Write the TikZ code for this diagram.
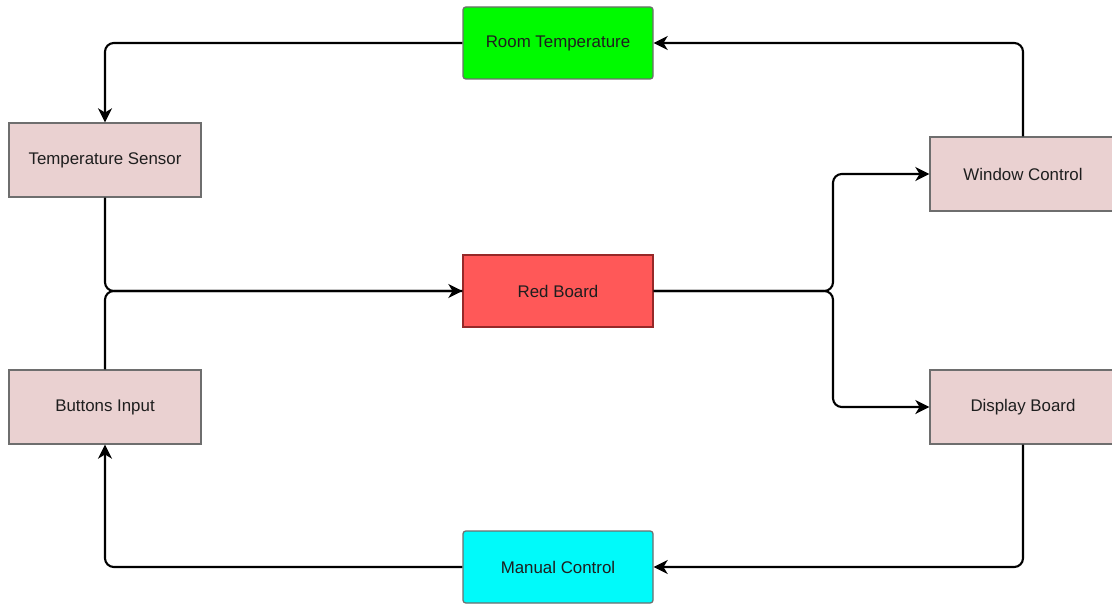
\documentclass[tikz,border=0pt]{standalone}
\usepackage{fontspec}
\setmainfont{Liberation Sans}
\usetikzlibrary{shapes,arrows.meta,calc}
\definecolor{pinkbox}{RGB}{234,209,209}
\definecolor{greenbox}{RGB}{0,250,0}
\definecolor{redbox}{RGB}{255,88,88}
\definecolor{cyanbox}{RGB}{0,250,250}
\tikzstyle{box} = [rectangle, minimum width=4.8cm, minimum height=1.85cm, text centered, draw={rgb,255:red,110;green,110;blue,110}, line width=0.9pt, fill=pinkbox, font=\fontsize{12}{14}\selectfont, text={rgb,255:red,30;green,30;blue,30}]
\tikzstyle{mid} = [box, minimum width=4.75cm, minimum height=1.8cm]
\tikzstyle{arrow} = [draw, line width=1.5pt, rounded corners=0.22cm, -{Stealth[length=10pt,width=10pt,inset=3pt]}]
\tikzstyle{line} = [draw, line width=1.5pt, rounded corners=0.22cm]

\begin{document}
\begin{tikzpicture}
        \useasboundingbox (0,0) rectangle (27.8,-15.1);
        \node (roomTemp) [mid, rounded corners=2pt, fill=greenbox] at (13.95,-1.075) {Room Temperature};
        \node (sensor) [box] at (2.625,-4.0) {Temperature Sensor};
        \node (redBoard) [mid, fill=redbox, draw={rgb,255:red,150;green,40;blue,40}] at (13.95,-7.275) {Red Board};
        \node (buttons) [box] at (2.625,-10.175) {Buttons Input};
        \node (window) [box, minimum width=4.65cm] at (25.575,-4.35) {Window Control};
        \node (display) [box, minimum width=4.65cm] at (25.575,-10.175) {Display Board};
        \node (manual) [mid, rounded corners=2pt, fill=cyanbox] at (13.95,-14.175) {Manual Control};
        \coordinate (split) at (20.825,-7.275);

        \path [arrow] (roomTemp.west) -| (sensor.north);
        \path [arrow] (window.north) |- (roomTemp.east);
        \path [arrow] (sensor.south) |- (redBoard.west);
        \path [line] (buttons.north) |- (redBoard.west);
        \path [arrow] (redBoard.east) -- (split) |- (window.west);
        \path [arrow] (redBoard.east) -- (split) |- (display.west);
        \path [arrow] (display.south) |- (manual.east);
        \path [arrow] (manual.west) -| (buttons.south);
    \end{tikzpicture}
\end{document}
